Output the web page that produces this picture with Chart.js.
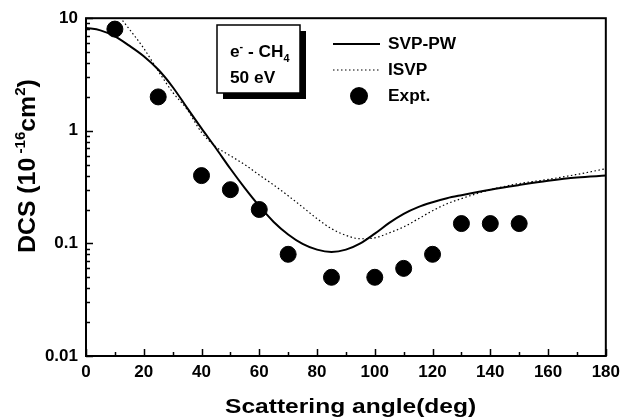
<!DOCTYPE html>
<html>
<head>
<meta charset="utf-8">
<script src="https://cdn.jsdelivr.net/npm/chart.js@4/dist/chart.umd.min.js"></script>
<style>
  html, body { margin: 0; padding: 0; background: #fff; }
  #wrap { width: 626px; height: 418px; }
</style>
</head>
<body>
<div id="wrap"><canvas id="dcsChart" width="626" height="418"></canvas></div>
<script>
// valores
const svpAngles = [0,5,10,15,20,25,30,35,40,45,50,55,60,65,70,75,80,85,90,95,100,105,110,115,120,125,130,140,150,160,170,180];
const svpDcs = [8.2,7.8,6.9,5.7,4.6,3.5,2.45,1.6,1.05,0.70,0.46,0.31,0.215,0.155,0.12,0.099,0.088,0.084,0.088,0.10,0.122,0.152,0.183,0.21,0.232,0.252,0.268,0.30,0.33,0.36,0.385,0.40];

const isvpAngles = [10,12,15,20,25,30,35,40,45,50,55,60,65,70,75,80,85,90,95,100,105,110,115,120,125,130,135,140,150,160,170,180];
const isvpDcs = [11.5,10,8.0,5.4,3.4,2.2,1.55,0.97,0.72,0.60,0.50,0.405,0.33,0.265,0.21,0.166,0.135,0.118,0.11,0.112,0.124,0.14,0.165,0.195,0.225,0.25,0.275,0.30,0.34,0.37,0.41,0.46];

const exptAngles = [10,25,40,50,60,70,85,100,110,120,130,140,150];
const exptDcs = [8,2,0.4,0.3,0.2,0.08,0.05,0.05,0.06,0.08,0.15,0.15,0.15];

const yTickValues = [0.01, 0.1, 1, 10];
const legendLabels = ['SVP-PW', 'ISVP', 'Expt.'];

const FONT = '"Liberation Sans", Arial, sans-serif';

function pares(xs, ys) {
    return xs.map((x, i) => ({ x: x, y: ys[i] }));
}

// texto com leve esticamento horizontal (a figura original é esticada)
function texto(ctx, str, x, y, size, sx) {
    ctx.save();
    ctx.font = 'bold ' + size + 'px ' + FONT;
    ctx.translate(x, y);
    ctx.scale(sx, 1);
    ctx.fillText(str, 0, 0);
    const w = ctx.measureText(str).width * sx;
    ctx.restore();
    return x + w;
}

const decoracoes = {
    id: 'decoracoes',
    afterDatasetsDraw(chart) {
        const ctx = chart.ctx;
        const a = chart.chartArea;
        const xs = chart.scales.x;
        const ys = chart.scales.y;
        ctx.save();
        ctx.fillStyle = '#000';
        ctx.strokeStyle = '#000';
        ctx.textBaseline = 'alphabetic';
        ctx.textAlign = 'left';

        // moldura
        ctx.lineWidth = 2;
        ctx.strokeRect(a.left, a.top, a.right - a.left, a.bottom - a.top);

        // ticks para dentro - eixo x
        ctx.lineWidth = 1.5;
        ctx.beginPath();
        for (let v = 0; v <= 180; v += 10) {
            const px = Math.round(xs.getPixelForValue(v)) + 0.5;
            const len = (v % 20 === 0) ? 7 : 4;
            ctx.moveTo(px, a.bottom);
            ctx.lineTo(px, a.bottom - len);
        }
        // eixo y (log)
        [0.01, 0.1, 1].forEach(dec => {
            for (let m = 1; m <= 9; m++) {
                const py = Math.round(ys.getPixelForValue(m * dec)) + 0.5;
                const len = (m === 1) ? 7 : 4;
                ctx.moveTo(a.left, py);
                ctx.lineTo(a.left + len, py);
            }
        });
        const pTop = Math.round(ys.getPixelForValue(10)) + 0.5;
        ctx.moveTo(a.left, pTop);
        ctx.lineTo(a.left + 7, pTop);
        ctx.stroke();

        // título eixo x
        texto(ctx, 'Scattering angle(deg)', 225, 413, 21, 1.17);

        // título eixo y, rotacionado, com sobrescritos
        ctx.save();
        ctx.translate(35, 253);
        ctx.rotate(-Math.PI / 2);
        let cx = 0;
        cx = texto(ctx, 'DCS (10', cx, 0, 23, 1.08);
        cx = texto(ctx, ' -16', cx, -10, 14, 1.08);
        cx = texto(ctx, 'cm', cx, 0, 23, 1.08);
        cx = texto(ctx, '2', cx, -10, 14, 1.08);
        texto(ctx, ')', cx, 0, 23, 1.08);
        ctx.restore();

        // caixa e- - CH4 / 50 eV
        ctx.fillRect(223, 31, 83, 68);
        ctx.fillStyle = '#fff';
        ctx.fillRect(217, 25, 83, 68);
        ctx.fillStyle = '#000';
        ctx.lineWidth = 1.5;
        ctx.strokeRect(217, 25, 83, 68);
        let tx = texto(ctx, 'e', 230, 57, 16, 1.08);
        tx = texto(ctx, '-', tx, 50, 10, 1.08);
        tx = texto(ctx, ' - CH', tx, 57, 16, 1.08);
        texto(ctx, '4', tx, 62, 10, 1.08);
        texto(ctx, '50 eV', 230, 83, 16, 1.08);

        // legenda
        ctx.textBaseline = 'middle';
        ctx.lineWidth = 2;
        ctx.beginPath();
        ctx.moveTo(333, 44);
        ctx.lineTo(380, 44);
        ctx.stroke();
        ctx.lineWidth = 1.2;
        ctx.setLineDash([1.5, 2.5]);
        ctx.beginPath();
        ctx.moveTo(333, 70);
        ctx.lineTo(380, 70);
        ctx.stroke();
        ctx.setLineDash([]);
        ctx.beginPath();
        ctx.arc(359, 96, 9, 0, Math.PI * 2);
        ctx.fill();
        texto(ctx, legendLabels[0], 388, 45, 16, 1.08);
        texto(ctx, legendLabels[1], 388, 71, 16, 1.08);
        texto(ctx, legendLabels[2], 388, 97, 16, 1.08);

        ctx.restore();
    }
};

new Chart(document.getElementById('dcsChart'), {
    type: 'scatter',
    data: {
        datasets: [
            {
                label: legendLabels[2],
                data: pares(exptAngles, exptDcs),
                backgroundColor: '#000',
                borderColor: '#000',
                pointRadius: 8,
                pointHoverRadius: 8,
                showLine: false
            },
            {
                label: legendLabels[0],
                data: pares(svpAngles, svpDcs),
                borderColor: '#000',
                borderWidth: 2,
                pointRadius: 0,
                showLine: true,
                cubicInterpolationMode: 'monotone'
            },
            {
                label: legendLabels[1],
                data: pares(isvpAngles, isvpDcs),
                borderColor: '#000',
                borderWidth: 1.2,
                borderDash: [1.5, 2.5],
                pointRadius: 0,
                showLine: true,
                cubicInterpolationMode: 'monotone'
            }
        ]
    },
    options: {
        responsive: false,
        animation: false,
        devicePixelRatio: 1,
        layout: { padding: { left: 0, top: 17, right: 16, bottom: 0 } },
        plugins: {
            legend: { display: false },
            tooltip: { enabled: false }
        },
        scales: {
            x: {
                type: 'linear',
                min: 0,
                max: 180,
                grid: { display: false, drawTicks: false },
                border: { display: false },
                ticks: {
                    stepSize: 20,
                    padding: 6,
                    color: '#000',
                    font: { family: FONT, size: 17, weight: 'bold' }
                },
                afterFit: s => { s.height = 62; }
            },
            y: {
                type: 'logarithmic',
                min: 0.01,
                max: 10,
                grid: { display: false, drawTicks: false },
                border: { display: false },
                afterBuildTicks: s => { s.ticks = yTickValues.map(v => ({ value: v })); },
                ticks: {
                    padding: 8,
                    color: '#000',
                    font: { family: FONT, size: 17, weight: 'bold' },
                    callback: v => String(v)
                },
                afterFit: s => { s.width = 86; }
            }
        }
    },
    plugins: [decoracoes]
});
</script>
</body>
</html>
